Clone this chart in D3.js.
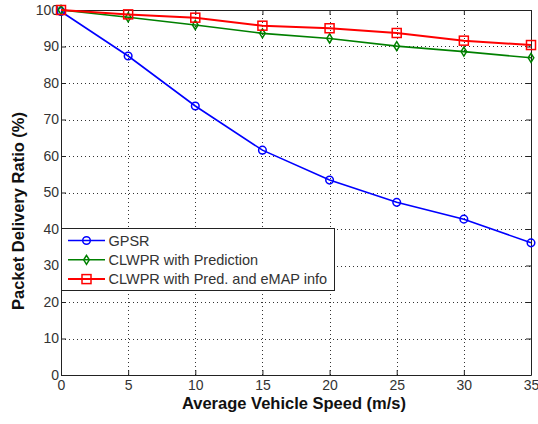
<!DOCTYPE html>
<html>
<head>
<meta charset="utf-8">
<script src="https://cdn.jsdelivr.net/npm/d3@7"></script>
<style>
  body { margin: 0; background: #fff; }
  svg { font-family: "Liberation Sans", Arial, sans-serif; }
</style>
</head>
<body>
<svg width="538" height="424"></svg>
<script>
// data
var speeds = [0, 5, 10, 15, 20, 25, 30, 35];
var gpsr = [99.6, 87.4, 73.7, 61.6, 53.4, 47.3, 42.7, 36.2];
var clwpr = [100, 98.0, 95.9, 93.6, 92.2, 90.1, 88.6, 86.9];
var clwprEmap = [100, 98.8, 97.9, 95.7, 95.0, 93.7, 91.6, 90.4];
var xTicks = [0, 5, 10, 15, 20, 25, 30, 35];
var yTicks = [0, 10, 20, 30, 40, 50, 60, 70, 80, 90, 100];

var seriesList = [
    {name: "GPSR", values: gpsr, color: "#0000ff", marker: "circle"},
    {name: "CLWPR with Prediction", values: clwpr, color: "#008000", marker: "diamond"},
    {name: "CLWPR with Pred. and eMAP info", values: clwprEmap, color: "#ff0000", marker: "square"}
];

var svg = d3.select("svg");
var plotLeft = 61, plotRight = 531, plotTop = 10, plotBottom = 375;

var x = d3.scaleLinear().domain([0, 35]).range([plotLeft, plotRight]);
var y = d3.scaleLinear().domain([0, 100]).range([plotBottom, plotTop]);

// grid
var grid = svg.append("g")
    .attr("stroke", "#333")
    .attr("stroke-width", 1)
    .attr("stroke-dasharray", "1,3");
grid.selectAll(".gx").data(xTicks.slice(1, -1)).enter().append("line")
    .attr("x1", function(d) { return Math.round(x(d)) + 0.5; })
    .attr("x2", function(d) { return Math.round(x(d)) + 0.5; })
    .attr("y1", plotTop).attr("y2", plotBottom);
grid.selectAll(".gy").data(yTicks.slice(1, -1)).enter().append("line")
    .attr("y1", function(d) { return Math.round(y(d)) + 0.5; })
    .attr("y2", function(d) { return Math.round(y(d)) + 0.5; })
    .attr("x1", plotLeft).attr("x2", plotRight);

// axes (ticks inward, mirrored on the box)
svg.append("g")
    .attr("transform", "translate(0," + plotBottom + ")")
    .call(d3.axisBottom(x).tickValues(xTicks).tickSizeInner(-5).tickSizeOuter(0).tickPadding(5));
svg.append("g")
    .attr("transform", "translate(0," + plotTop + ")")
    .call(d3.axisTop(x).tickValues(xTicks).tickSizeInner(-5).tickSizeOuter(0).tickFormat(""));
svg.append("g")
    .attr("transform", "translate(" + plotLeft + ",0)")
    .call(d3.axisLeft(y).tickValues(yTicks).tickSizeInner(-5).tickSizeOuter(0).tickPadding(2));
svg.append("g")
    .attr("transform", "translate(" + plotRight + ",0)")
    .call(d3.axisRight(y).tickValues(yTicks).tickSizeInner(-5).tickSizeOuter(0).tickFormat(""));

svg.selectAll(".domain").attr("stroke", "#222");
svg.selectAll(".tick line").attr("stroke", "#222");
svg.selectAll(".tick text")
    .attr("font-size", 14)
    .attr("fill", "#333")
    .style("font-family", "'Liberation Sans', Arial, sans-serif");

// lines
var line = d3.line()
    .x(function(d, i) { return x(speeds[i]); })
    .y(function(d) { return y(d); });

function drawMarker(g, type, cx, cy, color) {
    if (type === "circle") {
        g.append("circle").attr("cx", cx).attr("cy", cy).attr("r", 3.8)
            .attr("fill", "none").attr("stroke", color).attr("stroke-width", 1.5);
    } else if (type === "diamond") {
        g.append("path")
            .attr("d", "M" + cx + "," + (cy - 4.5) + "L" + (cx + 2.8) + "," + cy + "L" + cx + "," + (cy + 4.5) + "L" + (cx - 2.8) + "," + cy + "Z")
            .attr("fill", "none").attr("stroke", color).attr("stroke-width", 1.5);
    } else {
        g.append("rect").attr("x", cx - 4.5).attr("y", cy - 4.5).attr("width", 9).attr("height", 9)
            .attr("fill", "none").attr("stroke", color).attr("stroke-width", 1.5);
    }
}

for (let s of seriesList) {
    let g = svg.append("g");
    g.append("path")
        .datum(s.values)
        .attr("d", line)
        .attr("fill", "none")
        .attr("stroke", s.color)
        .attr("stroke-width", s.marker === "square" ? 2 : 1.6);
    s.values.forEach(function(v, i) {
        drawMarker(g, s.marker, x(speeds[i]), y(v), s.color);
    });
}

// legend
var legend = svg.append("g");
legend.append("rect")
    .attr("x", plotLeft + 0.5).attr("y", 228.5)
    .attr("width", 273).attr("height", 62)
    .attr("fill", "#fff").attr("stroke", "#222").attr("stroke-width", 1);
seriesList.forEach(function(s, i) {
    let ly = 240.5 + i * 19.3;
    legend.append("line")
        .attr("x1", 68).attr("x2", 105).attr("y1", ly).attr("y2", ly)
        .attr("stroke", s.color).attr("stroke-width", s.marker === "square" ? 2 : 1.6);
    drawMarker(legend, s.marker, 86.5, ly, s.color);
    legend.append("text")
        .attr("x", 108.5).attr("y", ly + 5)
        .attr("font-size", 14.5)
        .attr("fill", "#333")
        .text(s.name);
});

// axis labels
svg.append("text")
    .attr("x", 294).attr("y", 409)
    .attr("text-anchor", "middle")
    .attr("font-size", 16.5)
    .attr("font-weight", "bold")
    .attr("fill", "#111")
    .text("Average Vehicle Speed (m/s)");
svg.append("text")
    .attr("transform", "translate(24,211) rotate(-90)")
    .attr("text-anchor", "middle")
    .attr("font-size", 16.5)
    .attr("font-weight", "bold")
    .attr("fill", "#111")
    .text("Packet Delivery Ratio (%)");
</script>
</body>
</html>
